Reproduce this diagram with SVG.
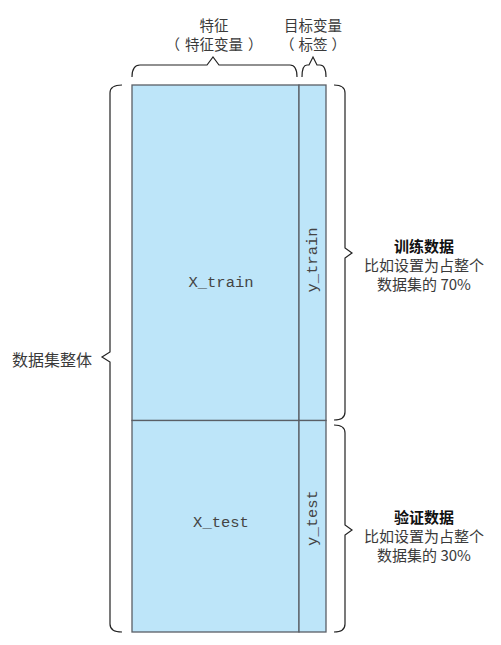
<svg xmlns="http://www.w3.org/2000/svg" width="501" height="645" viewBox="0 0 501 645">
<style>
.cjk{font-family:"Noto Sans CJK SC","Noto Sans",sans-serif;font-size:15px;fill:#3a3a3a;text-anchor:middle;dominant-baseline:central}
.t{font-size:14.5px}
.b{font-weight:bold;fill:#111}
.mono{font-family:"Liberation Mono","DejaVu Sans Mono",monospace;font-size:15.5px;fill:#444;text-anchor:middle;dominant-baseline:central}
.brace{fill:none;stroke:#222;stroke-width:1.2}
.cell{fill:#bde5f9;stroke:#5a5f66;stroke-width:1.3}
</style>
<rect width="501" height="645" fill="#fff"/>
<g id="x_train"><rect class="cell" x="132" y="85" width="167" height="335.5"/><text class="mono" x="221" y="283">X_train</text></g>
<g id="y_train"><rect class="cell" x="299" y="85" width="27" height="335.5"/><text class="mono" transform="translate(313,260) rotate(-90)">y_train</text></g>
<g id="x_test"><rect class="cell" x="132" y="420.5" width="167" height="211.5"/><text class="mono" x="221" y="523">X_test</text></g>
<g id="y_test"><rect class="cell" x="299" y="420.5" width="27" height="211.5"/><text class="mono" transform="translate(313,518) rotate(-90)">y_test</text></g>
<g id="connectors">
<path class="brace" d="M132,77 Q132,65 140,65 L207,65 L213,57 L219,65 L290,65 Q297,65 297,77"/>
<path class="brace" d="M302,77 Q302,65 307,65 L309,65 L313,57 L317,65 L320,65 Q326,65 326,77"/>
<path class="brace" d="M122,85 Q110,85 110,93 L110,352 L102,357 L110,362 L110,624 Q110,632 122,632"/>
<path class="brace" d="M334,85 Q345,85 345,93 L345,248 L352,253 L345,258 L345,412 Q345,420 334,420"/>
<path class="brace" d="M334,425 Q345,425 345,433 L345,525 L352,530 L345,535 L345,624 Q345,632 334,632"/>
</g>
<g id="features"><text class="cjk t" x="214" y="24">特征</text><text class="cjk t" x="214" y="43">（<tspan dx="5">特征变量</tspan><tspan dx="5">）</tspan></text></g>
<g id="target"><text class="cjk t" x="313" y="24">目标变量</text><text class="cjk t" x="313" y="43">（<tspan dx="4">标签</tspan><tspan dx="4">）</tspan></text></g>
<g id="whole"><text class="cjk" x="52" y="359" style="font-size:16px">数据集整体</text></g>
<g id="train_label"><text class="cjk b" x="424" y="245">训练数据</text><text class="cjk" x="424" y="264">比如设置为占整个</text><text class="cjk" x="424" y="283">数据集的 70%</text></g>
<g id="test_label"><text class="cjk b" x="424" y="516">验证数据</text><text class="cjk" x="424" y="535">比如设置为占整个</text><text class="cjk" x="424" y="554">数据集的 30%</text></g>
</svg>
